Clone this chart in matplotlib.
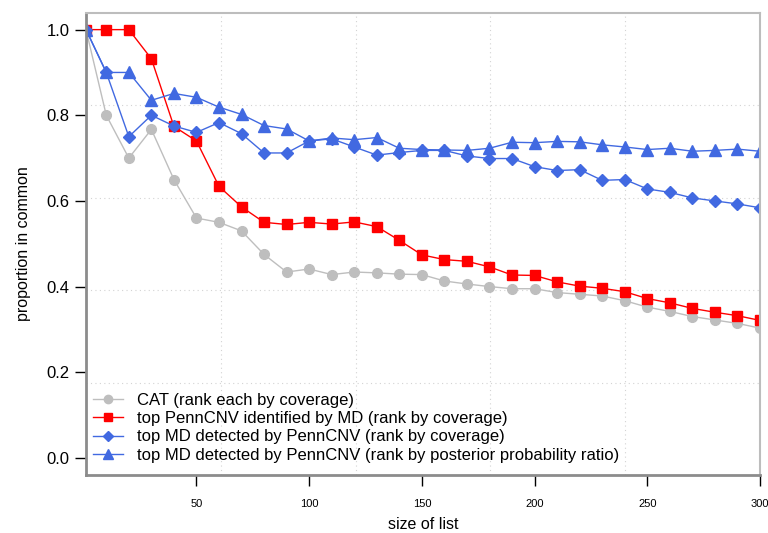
import matplotlib
matplotlib.use("Agg")
import matplotlib.pyplot as plt
from matplotlib.lines import Line2D

list_size = [1] + list(range(10, 301, 10))

cat_coverage = [1.0, 0.80, 0.70, 0.767, 0.65, 0.56, 0.55, 0.53, 0.475, 0.434, 0.441, 0.428, 0.434,
                0.432, 0.429, 0.428, 0.413, 0.406, 0.400, 0.395, 0.395, 0.386, 0.382, 0.378, 0.367,
                0.352, 0.342, 0.330, 0.322, 0.314, 0.303]
penncnv_by_md = [1.0, 1.0, 1.0, 0.932, 0.774, 0.740, 0.634, 0.586, 0.550, 0.545, 0.550, 0.546, 0.551,
                 0.540, 0.508, 0.474, 0.463, 0.459, 0.446, 0.427, 0.426, 0.411, 0.401, 0.396, 0.388,
                 0.372, 0.362, 0.349, 0.340, 0.332, 0.321]
md_by_penncnv_cov = [1.0, 0.90, 0.750, 0.800, 0.775, 0.760, 0.783, 0.757, 0.712, 0.712, 0.740, 0.745, 0.726,
                     0.707, 0.713, 0.718, 0.718, 0.705, 0.699, 0.699, 0.680, 0.671, 0.673, 0.648, 0.650,
                     0.628, 0.620, 0.607, 0.600, 0.593, 0.584]
md_by_penncnv_ppr = [1.0, 0.900, 0.900, 0.835, 0.851, 0.842, 0.819, 0.802, 0.776, 0.768, 0.740, 0.747, 0.743,
                     0.748, 0.723, 0.720, 0.719, 0.718, 0.723, 0.737, 0.736, 0.739, 0.738, 0.731, 0.726,
                     0.720, 0.723, 0.716, 0.718, 0.721, 0.716]

legend_labels = ["CAT (rank each by coverage)",
                 "top PennCNV identified by MD (rank by coverage)",
                 "top MD detected by PennCNV (rank by coverage)",
                 "top MD detected by PennCNV (rank by posterior probability ratio)"]

plt.rcParams['font.family'] = ['Liberation Sans', 'DejaVu Sans']

fig = plt.figure(figsize=(7.68, 5.33), dpi=100)
ax = fig.add_axes([86 / 768, 1 - 475 / 533, (760 - 86) / 768, (475 - 12.5) / 533])

ax.set_xlim(1, 300)
ax.set_ylim(-0.04, 1.04)

# grid like R's grid(5, 5): equal divisions of the plot region
for i in range(1, 5):
    ax.axvline(1 + i * 299 / 5, color='#d3d3d3', lw=0.8, ls=(0, (1, 3)), zorder=0)
    ax.axhline(-0.04 + i * 1.08 / 5, color='#d3d3d3', lw=0.8, ls=(0, (1, 3)), zorder=0)

ax.plot(list_size, cat_coverage, color='#bebebe', lw=1, marker='o', ms=7, mec='#bebebe', mfc='#bebebe')
ax.plot(list_size, penncnv_by_md, color='#ff0000', lw=1, marker='s', ms=6.5, mec='#ff0000', mfc='#ff0000')
ax.plot(list_size, md_by_penncnv_cov, color='#4169e1', lw=1, marker='D', ms=6, mec='#4169e1', mfc='#4169e1')
ax.plot(list_size, md_by_penncnv_ppr, color='#4169e1', lw=1, marker='^', ms=8, mec='#4169e1', mfc='#4169e1')

ax.set_xticks([50, 100, 150, 200, 250, 300])
ax.set_yticks([0.0, 0.2, 0.4, 0.6, 0.8, 1.0])
ax.set_yticklabels(['0.0', '0.2', '0.4', '0.6', '0.8', '1.0'])
ax.tick_params(axis='x', direction='out', length=8, width=1, labelsize=8, pad=9)
ax.tick_params(axis='y', direction='out', length=8, width=1, labelsize=12, pad=4)

for side in ['left', 'bottom']:
    ax.spines[side].set_color('#8c8c8c')
    ax.spines[side].set_linewidth(2)
for side in ['top', 'right']:
    ax.spines[side].set_color('#bdbdbd')
    ax.spines[side].set_linewidth(1.5)

ax.set_xlabel('size of list', fontsize=11.5, labelpad=6)
ax.set_ylabel('proportion in common', fontsize=11.5, labelpad=11)

handles = [
    Line2D([], [], color='#bebebe', lw=1, marker='o', ms=6),
    Line2D([], [], color='#ff0000', lw=1, marker='s', ms=5.5),
    Line2D([], [], color='#4169e1', lw=1, marker='D', ms=5),
    Line2D([], [], color='#4169e1', lw=1, marker='^', ms=7),
]
ax.legend(handles, legend_labels, loc='lower left', bbox_to_anchor=(-0.005, 0.005), frameon=False,
          fontsize=12, handlelength=1.8, handletextpad=0.85, labelspacing=0.2, borderaxespad=0.2)

fig.savefig('out.png', dpi=100)
